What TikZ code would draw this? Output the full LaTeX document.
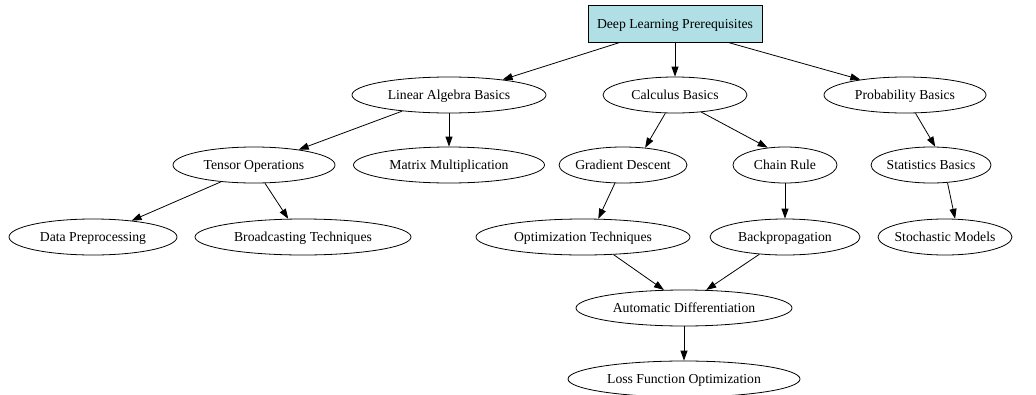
\documentclass[tikz,border=0pt]{standalone}
\usepackage{fontspec}
\setmainfont{Liberation Serif}
\usetikzlibrary{arrows.meta,shapes.geometric}
\definecolor{boxblue}{HTML}{B0E0E6}
\newcommand{\zw}[1]{\makebox[0pt][c]{#1}}
\tikzset{
  el/.style={draw, ellipse, line width=0.8pt, inner sep=0pt, minimum height=36pt, text height=9pt, text depth=0pt, font=\fontsize{13.7}{16}\selectfont},
  topbox/.style={draw, rectangle, line width=0.8pt, fill=boxblue, inner sep=0pt, minimum width=174pt, minimum height=37pt, text height=9pt, text depth=0pt, font=\fontsize{13.7}{16}\selectfont},
  edge/.style={draw, line width=0.8pt, -{Triangle[length=10pt,width=7pt]}}
}
\begin{document}
\begin{tikzpicture}[x=1pt,y=-1pt]
\useasboundingbox (0,0) rectangle (1036,394);
\node[topbox] (dl) at (675,23.5) {Deep Learning Prerequisites};
\node[el, minimum width=194pt] (la) at (449,95) {\zw{Linear Algebra Basics}};
\node[el, minimum width=144pt] (cb) at (675,95) {\zw{Calculus Basics}};
\node[el, minimum width=162pt] (pb) at (905,95) {\zw{Probability Basics}};
\node[el, minimum width=162pt] (to) at (254,165) {\zw{Tensor Operations}};
\node[el, minimum width=191pt] (mm) at (449,165) {\zw{Matrix Multiplication}};
\node[el, minimum width=128pt] (gd) at (623,165) {\zw{Gradient Descent}};
\node[el, minimum width=104pt] (cr) at (785,165) {\zw{Chain Rule}};
\node[el, minimum width=120pt] (sb) at (931,165) {\zw{Statistics Basics}};
\node[el, minimum width=168pt] (dp) at (93,237) {\zw{Data Preprocessing}};
\node[el, minimum width=216pt] (bt) at (303,237) {\zw{Broadcasting Techniques}};
\node[el, minimum width=214pt] (ot) at (583,237) {\zw{Optimization Techniques}};
\node[el, minimum width=150pt] (bp) at (785,237) {\zw{Backpropagation}};
\node[el, minimum width=134pt] (sm) at (945,237) {\zw{Stochastic Models}};
\node[el, minimum width=216pt] (ad) at (684,308) {\zw{Automatic Differentiation}};
\node[el, minimum width=232pt] (lf) at (684,379) {\zw{Loss Function Optimization}};
\draw[edge] ([xshift=-55pt]dl.south) -- (la.16);
\draw[edge] (dl.south) -- (cb.north);
\draw[edge] ([xshift=53pt]dl.south) -- (pb.161);
\draw[edge] (la.199) -- (to.19);
\draw[edge] (la.south) -- (mm.north);
\draw[edge] (cb.242) -- (gd.38);
\draw[edge] (cb.-33) -- (cr.135);
\draw[edge] (pb.-60) -- (sb.77);
\draw[edge] (to.207) -- (dp.23);
\draw[edge] (to.-59) -- (bt.129);
\draw[edge] (gd.246) -- (ot.50);
\draw[edge] (cr.south) -- (bp.north);
\draw[edge] (sb.-47) -- (sm.61);
\draw[edge] (ot.-30) -- (ad.138);
\draw[edge] (bp.214) -- (ad.39);
\draw[edge] (ad.south) -- (lf.north);
\end{tikzpicture}
\end{document}
